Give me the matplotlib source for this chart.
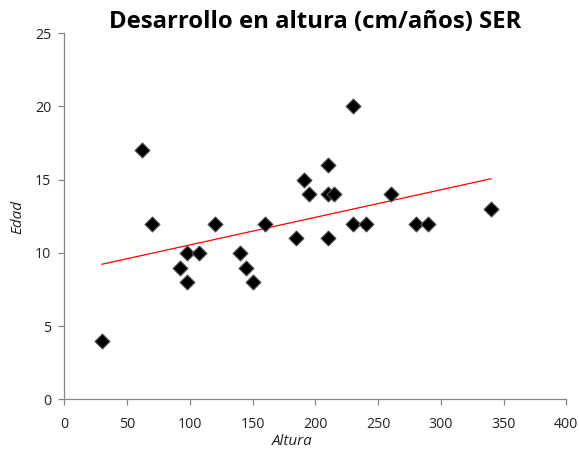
import matplotlib.pyplot as plt
import numpy as np

# Altura (cm) y edad (años) de cada individuo
altura = [30, 62, 70, 92, 98, 98, 107, 120, 140, 145, 150, 160,
          185, 191, 195, 210, 210, 215, 210, 230, 230, 240, 260, 280, 290, 340]
edad = [4, 17, 12, 9, 10, 8, 10, 12, 10, 9, 8, 12,
        11, 15, 14, 16, 14, 14, 11, 20, 12, 12, 14, 12, 12, 13]
x_ticks = [0, 50, 100, 150, 200, 250, 300, 350, 400]
y_ticks = [0, 5, 10, 15, 20, 25]

plt.rcParams['font.family'] = ['Open Sans', 'DejaVu Sans']
axis_gray = '#868686'

fig = plt.figure(figsize=(5.79, 4.54), dpi=100)
ax = fig.add_axes([0.1111, 0.1205, 0.8670, 0.8062])

ax.scatter(altura, edad, marker='D', s=58, color='black',
           edgecolors='#555555', linewidths=0.8, zorder=3)

# línea de tendencia lineal
m, b = np.polyfit(altura, edad, 1)
xs = np.array([min(altura), max(altura)])
ax.plot(xs, m * xs + b, color='#ff0000', linewidth=0.9, zorder=2)

ax.set_xlim(0, 400)
ax.set_ylim(0, 25)
ax.set_xticks(x_ticks)
ax.set_yticks(y_ticks)

for side in ['top', 'right']:
    ax.spines[side].set_visible(False)
for side in ['left', 'bottom']:
    ax.spines[side].set_color(axis_gray)
    ax.spines[side].set_linewidth(0.9)
ax.tick_params(direction='out', length=4, width=0.9, color=axis_gray,
               labelsize=10.2, labelcolor='#222222')
ax.tick_params(axis='x', pad=8.5)
ax.tick_params(axis='y', pad=5.5)

fig.text(0.5045, 0.028, 'Altura', style='italic', fontsize=11,
         ha='center', va='center', color='#222222')
fig.text(0.031, 0.523, 'Edad', style='italic', fontsize=11,
         ha='center', va='center', rotation=90, color='#222222')
fig.text(0.544, 0.952, 'Desarrollo en altura (cm/años) SER',
         fontsize=17.2, fontweight='bold', ha='center', va='center',
         color='black')

fig.savefig('out.png', dpi=100)
